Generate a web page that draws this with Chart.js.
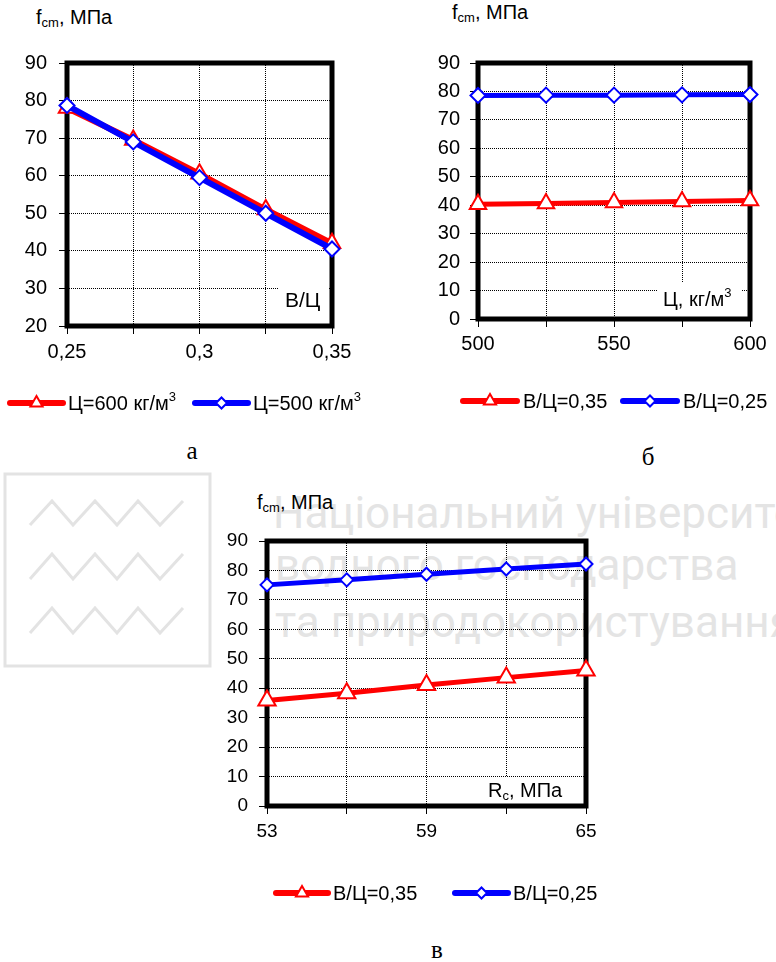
<!DOCTYPE html>
<html>
<head>
<meta charset="utf-8">
<script src="https://cdn.jsdelivr.net/npm/chart.js@4.4.1/dist/chart.umd.min.js"></script>
<style>
  body { margin: 0; background: #fff; }
  #page { position: relative; width: 776px; height: 962px; overflow: hidden; background: #fff; }
  #page svg { position: absolute; left: 0; top: 0; }
  .box { position: absolute; }
</style>
</head>
<body>
<div id="page">
  <!-- watermark, titles and captions -->
  <svg width="776" height="962" xmlns="http://www.w3.org/2000/svg">
    <g fill="none" stroke="#e3e3e3" stroke-width="3">
      <rect x="5" y="474" width="205" height="192"/>
      <polyline points="30,525 52,501 73,525 95,501 117,525 138,501 160,525 183,501"/>
      <polyline points="30,579 52,554 73,579 95,554 117,579 138,554 160,579 183,554"/>
      <polyline points="30,633 52,608 73,633 95,608 117,633 138,608 160,633 183,608"/>
    </g>
    <g font-family="Roboto, 'Noto Sans', sans-serif" font-size="44" fill="#e4e4e4">
      <text x="273" y="528">Національний університет</text>
      <text x="275" y="580">водного господарства</text>
      <text x="275" y="637">та природокористування</text>
    </g>
    <g font-family="'Liberation Sans', Arial, sans-serif" fill="#000">
      <text x="36" y="24" font-size="20">f<tspan font-size="13" dy="3">cm</tspan><tspan dy="-3">, МПа</tspan></text>
      <text x="452" y="19" font-size="20">f<tspan font-size="13" dy="3">cm</tspan><tspan dy="-3">, МПа</tspan></text>
      <text x="257" y="509" font-size="20">f<tspan font-size="13" dy="3">cm</tspan><tspan dy="-3">, МПа</tspan></text>
    </g>
    <g font-family="'Liberation Serif', 'Times New Roman', serif" font-size="25" fill="#000" text-anchor="middle">
      <text x="192" y="459">а</text>
      <text x="648" y="465">б</text>
      <text x="437" y="958">в</text>
    </g>
  </svg>
  <div class="box" style="left:0;top:0;width:380px;height:430px"><canvas id="chartA"></canvas></div>
  <div class="box" style="left:380px;top:0;width:396px;height:430px"><canvas id="chartB"></canvas></div>
  <div class="box" style="left:200px;top:470px;width:420px;height:440px"><canvas id="chartC"></canvas></div>
</div>
<script>
// ---- а: f_cm vs В/Ц ----
const A_X = [0.25, 0.275, 0.3, 0.325, 0.35];
const A_C600 = [78, 69.5, 60.5, 51, 42];
const A_C500 = [78.7, 69, 59.5, 50, 40.5];
const A_XLABELS = [0.25, 0.3, 0.35];

// ---- б: f_cm vs Ц ----
const B_X = [500, 525, 550, 575, 600];
const B_WC035 = [40.3, 40.6, 41, 41.3, 41.7];
const B_WC025 = [78.6, 78.7, 78.7, 78.8, 78.9];
const B_XLABELS = [500, 550, 600];

// ---- в: f_cm vs R_c ----
const C_X = [53, 56, 59, 62, 65];
const C_WC035 = [35.8, 38.3, 41.1, 43.6, 46];
const C_WC025 = [75.1, 76.8, 78.7, 80.5, 82.2];
const C_XLABELS = [53, 59, 65];

const RED = '#ff0000', BLUE = '#0000ff';
const FONT = "'Liberation Sans', Arial, sans-serif";

Chart.defaults.font.family = FONT;
Chart.defaults.color = '#000';

function pts(xs, ys) { return xs.map((x, i) => ({x, y: ys[i]})); }
function fmt(v) { return String(+v.toFixed(4)).replace('.', ','); }

// same marker geometry as Chart.js uses for triangle / rectRot
function marker(ctx, style, r, x, y, color, bw) {
  ctx.save();
  ctx.beginPath();
  if (style === 'triangle') {
    for (let k = 0; k < 3; k++) {
      const a = k * 2 * Math.PI / 3;
      ctx[k ? 'lineTo' : 'moveTo'](x + Math.sin(a) * r, y - Math.cos(a) * r);
    }
  } else {
    ctx.moveTo(x - r, y); ctx.lineTo(x, y - r); ctx.lineTo(x + r, y); ctx.lineTo(x, y + r);
  }
  ctx.closePath();
  ctx.fillStyle = '#fff'; ctx.fill();
  ctx.lineWidth = bw; ctx.strokeStyle = color; ctx.stroke();
  ctx.restore();
}

// text runs: [text, size, dy]
function runs(ctx, parts, x, y) {
  ctx.textBaseline = 'alphabetic'; ctx.textAlign = 'left'; ctx.fillStyle = '#000';
  parts.forEach(([t, s, dy]) => {
    ctx.font = s + 'px ' + FONT;
    ctx.fillText(t, x, y + dy);
    x += ctx.measureText(t).width;
  });
}

const framePlugin = {
  id: 'frame',
  beforeDatasetsDraw(chart, args, o) {
    const {ctx, chartArea: a} = chart;
    ctx.save();
    const b = o.box;
    ctx.fillStyle = '#fff';
    ctx.fillRect(b[0], b[1], b[2] - b[0], b[3] - b[1]);
    runs(ctx, o.name, o.nameAt[0], o.nameAt[1]);
    ctx.lineWidth = 5; ctx.strokeStyle = '#000';
    ctx.strokeRect(a.left, a.top, a.width, a.height);
    ctx.restore();
  },
  afterDraw(chart, args, o) {
    const ctx = chart.ctx;
    o.legend.forEach(it => {
      const ds = chart.data.datasets[it.ds];
      ctx.save();
      ctx.beginPath();
      ctx.lineCap = 'round'; ctx.lineWidth = 6; ctx.strokeStyle = ds.borderColor;
      ctx.moveTo(it.x1, o.legendY); ctx.lineTo(it.x2, o.legendY); ctx.stroke();
      ctx.restore();
      marker(ctx, ds.pointStyle, it.r, (it.x1 + it.x2) / 2, o.legendY, ds.borderColor, 2);
      runs(ctx, it.text, it.tx, o.legendY + 7);
    });
  }
};

function series(label, data, color, style, r, lw, order) {
  return {
    label, data, borderColor: color, backgroundColor: '#fff', borderWidth: lw,
    pointStyle: style, pointRadius: r, pointHoverRadius: r, pointBorderWidth: 2,
    pointBackgroundColor: '#fff', pointBorderColor: color, tension: 0, clip: false, order
  };
}

function makeChart(id, g) {
  new Chart(document.getElementById(id), {
    type: 'line',
    data: {datasets: g.datasets},
    options: {
      responsive: true, maintainAspectRatio: false, animation: false,
      layout: {padding: {left: 0, top: g.top, right: g.right, bottom: 0}},
      plugins: {legend: {display: false}, tooltip: {enabled: false}, frame: g.frame},
      scales: {
        x: {
          type: 'linear', min: g.xMin, max: g.xMax,
          afterFit: s => { s.height = g.xH; },
          ticks: {stepSize: g.xStep, autoSkip: false, maxRotation: 0, padding: g.xPad,
            font: {size: g.fs}, color: '#000',
            callback: v => g.xLabels.some(t => Math.abs(t - v) < 1e-6) ? fmt(v) : ''},
          grid: {color: '#000', lineWidth: 1, tickLength: 8, tickColor: '#000', tickWidth: 1, tickBorderDash: []},
          border: {display: false, dash: [1, 1]}
        },
        y: {
          min: g.yMin, max: 90,
          afterFit: s => { s.width = g.yW; },
          ticks: {stepSize: 10, padding: g.yPad, font: {size: g.fs}, color: '#000'},
          grid: {color: '#000', lineWidth: 1, tickLength: 8, tickColor: '#000', tickWidth: 1, tickBorderDash: []},
          border: {display: false, dash: [1, 1]}
        }
      }
    },
    plugins: [framePlugin]
  });
}

makeChart('chartA', {
  datasets: [
    series('Ц=600 кг/м3', pts(A_X, A_C600), RED, 'triangle', 9.5, 6, 2),
    series('Ц=500 кг/м3', pts(A_X, A_C500), BLUE, 'rectRot', 7.5, 6, 1)
  ],
  top: 63, right: 48, yW: 67, xH: 104, xMin: 0.25, xMax: 0.35, xStep: 0.025, xLabels: A_XLABELS,
  yMin: 20, fs: 20, xPad: 6, yPad: 12,
  frame: {
    box: [278, 282, 329, 322], name: [['В/Ц', 21, 0]], nameAt: [285, 307],
    legendY: 403,
    legend: [
      {ds: 0, x1: 10, x2: 63, r: 7, tx: 68, text: [['Ц=600 кг/м', 20, 0], ['3', 13, -9]]},
      {ds: 1, x1: 195, x2: 248, r: 5.5, tx: 253, text: [['Ц=500 кг/м', 20, 0], ['3', 13, -9]]}
    ]
  }
});

makeChart('chartB', {
  datasets: [
    series('В/Ц=0,35', pts(B_X, B_WC035), RED, 'triangle', 9.5, 5, 2),
    series('В/Ц=0,25', pts(B_X, B_WC025), BLUE, 'rectRot', 7.5, 5, 1)
  ],
  top: 63, right: 26, yW: 98, xH: 111, xMin: 500, xMax: 600, xStep: 25, xLabels: B_XLABELS,
  yMin: 0, fs: 20, xPad: 5, yPad: 10,
  frame: {
    box: [278, 283, 361, 316], name: [['Ц, кг/м', 20, 0], ['3', 13, -9]], nameAt: [283, 306],
    legendY: 401,
    legend: [
      {ds: 0, x1: 83, x2: 137, r: 7, tx: 143, text: [['В/Ц=0,35', 20, 0]]},
      {ds: 1, x1: 243, x2: 297, r: 5.5, tx: 303, text: [['В/Ц=0,25', 20, 0]]}
    ]
  }
});

makeChart('chartC', {
  datasets: [
    series('В/Ц=0,35', pts(C_X, C_WC035), RED, 'triangle', 10, 5, 2),
    series('В/Ц=0,25', pts(C_X, C_WC025), BLUE, 'rectRot', 6.5, 5, 1)
  ],
  top: 71, right: 34, yW: 67, xH: 104, xMin: 53, xMax: 65, xStep: 3, xLabels: C_XLABELS,
  yMin: 0, fs: 19, xPad: 6, yPad: 11,
  frame: {
    box: [278, 307, 378, 334], name: [['R', 20, 0], ['c', 13, 3], [', МПа', 20, 0]], nameAt: [288, 327],
    legendY: 423,
    legend: [
      {ds: 0, x1: 76, x2: 128, r: 7, tx: 133, text: [['В/Ц=0,35', 20, 0]]},
      {ds: 1, x1: 255, x2: 308, r: 5.5, tx: 313, text: [['В/Ц=0,25', 20, 0]]}
    ]
  }
});
</script>
</body>
</html>
